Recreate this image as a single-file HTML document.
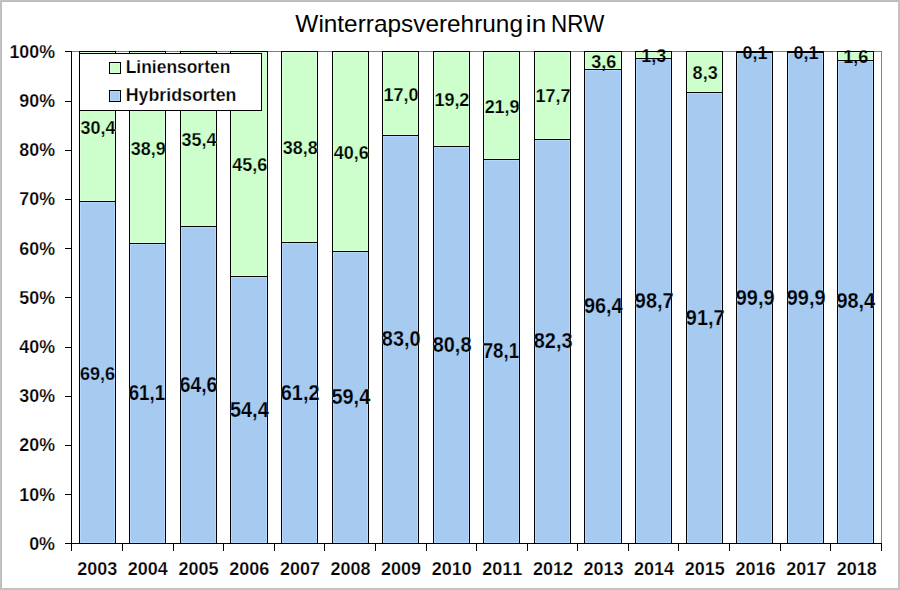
<!DOCTYPE html>
<html><head><meta charset="utf-8"><style>
html,body{margin:0;padding:0;background:#fff;}
body{width:900px;height:590px;overflow:hidden;}
svg{display:block;}
text{font-family:"Liberation Sans", sans-serif;font-kerning:none;}
</style></head><body>
<svg width="900" height="590" viewBox="0 0 900 590" shape-rendering="crispEdges">
<rect x="0" y="0" width="900" height="590" fill="#C2C2C2"/>
<rect x="1" y="1" width="897" height="587" fill="#BBBBBB"/>
<rect x="2" y="2" width="896" height="586" fill="#FFFFFF"/>
<rect x="71" y="51" width="811" height="1" fill="#808080"/>
<rect x="881" y="51" width="1" height="493" fill="#808080"/>
<rect x="79" y="51" width="37" height="151" fill="#000"/>
<rect x="80" y="52" width="35" height="149" fill="#DAFFDA"/>
<rect x="81" y="53" width="33" height="147" fill="#CCFFCC"/>
<rect x="79" y="201" width="37" height="343" fill="#000"/>
<rect x="80" y="202" width="35" height="341" fill="#B4D8FF"/>
<rect x="81" y="203" width="33" height="339" fill="#A6CAF0"/>
<rect x="129" y="51" width="37" height="193" fill="#000"/>
<rect x="130" y="52" width="35" height="191" fill="#DAFFDA"/>
<rect x="131" y="53" width="33" height="189" fill="#CCFFCC"/>
<rect x="129" y="243" width="37" height="301" fill="#000"/>
<rect x="130" y="244" width="35" height="299" fill="#B4D8FF"/>
<rect x="131" y="245" width="33" height="297" fill="#A6CAF0"/>
<rect x="180" y="51" width="37" height="176" fill="#000"/>
<rect x="181" y="52" width="35" height="174" fill="#DAFFDA"/>
<rect x="182" y="53" width="33" height="172" fill="#CCFFCC"/>
<rect x="180" y="226" width="37" height="318" fill="#000"/>
<rect x="181" y="227" width="35" height="316" fill="#B4D8FF"/>
<rect x="182" y="228" width="33" height="314" fill="#A6CAF0"/>
<rect x="230" y="51" width="38" height="226" fill="#000"/>
<rect x="231" y="52" width="36" height="224" fill="#DAFFDA"/>
<rect x="232" y="53" width="34" height="222" fill="#CCFFCC"/>
<rect x="230" y="276" width="38" height="268" fill="#000"/>
<rect x="231" y="277" width="36" height="266" fill="#B4D8FF"/>
<rect x="232" y="278" width="34" height="264" fill="#A6CAF0"/>
<rect x="281" y="51" width="37" height="192" fill="#000"/>
<rect x="282" y="52" width="35" height="190" fill="#DAFFDA"/>
<rect x="283" y="53" width="33" height="188" fill="#CCFFCC"/>
<rect x="281" y="242" width="37" height="302" fill="#000"/>
<rect x="282" y="243" width="35" height="300" fill="#B4D8FF"/>
<rect x="283" y="244" width="33" height="298" fill="#A6CAF0"/>
<rect x="332" y="51" width="37" height="201" fill="#000"/>
<rect x="333" y="52" width="35" height="199" fill="#DAFFDA"/>
<rect x="334" y="53" width="33" height="197" fill="#CCFFCC"/>
<rect x="332" y="251" width="37" height="293" fill="#000"/>
<rect x="333" y="252" width="35" height="291" fill="#B4D8FF"/>
<rect x="334" y="253" width="33" height="289" fill="#A6CAF0"/>
<rect x="382" y="51" width="37" height="85" fill="#000"/>
<rect x="383" y="52" width="35" height="83" fill="#DAFFDA"/>
<rect x="384" y="53" width="33" height="81" fill="#CCFFCC"/>
<rect x="382" y="135" width="37" height="409" fill="#000"/>
<rect x="383" y="136" width="35" height="407" fill="#B4D8FF"/>
<rect x="384" y="137" width="33" height="405" fill="#A6CAF0"/>
<rect x="433" y="51" width="37" height="96" fill="#000"/>
<rect x="434" y="52" width="35" height="94" fill="#DAFFDA"/>
<rect x="435" y="53" width="33" height="92" fill="#CCFFCC"/>
<rect x="433" y="146" width="37" height="398" fill="#000"/>
<rect x="434" y="147" width="35" height="396" fill="#B4D8FF"/>
<rect x="435" y="148" width="33" height="394" fill="#A6CAF0"/>
<rect x="483" y="51" width="37" height="109" fill="#000"/>
<rect x="484" y="52" width="35" height="107" fill="#DAFFDA"/>
<rect x="485" y="53" width="33" height="105" fill="#CCFFCC"/>
<rect x="483" y="159" width="37" height="385" fill="#000"/>
<rect x="484" y="160" width="35" height="383" fill="#B4D8FF"/>
<rect x="485" y="161" width="33" height="381" fill="#A6CAF0"/>
<rect x="534" y="51" width="37" height="89" fill="#000"/>
<rect x="535" y="52" width="35" height="87" fill="#DAFFDA"/>
<rect x="536" y="53" width="33" height="85" fill="#CCFFCC"/>
<rect x="534" y="139" width="37" height="405" fill="#000"/>
<rect x="535" y="140" width="35" height="403" fill="#B4D8FF"/>
<rect x="536" y="141" width="33" height="401" fill="#A6CAF0"/>
<rect x="584" y="51" width="38" height="19" fill="#000"/>
<rect x="585" y="52" width="36" height="17" fill="#DAFFDA"/>
<rect x="586" y="53" width="34" height="15" fill="#CCFFCC"/>
<rect x="584" y="69" width="38" height="475" fill="#000"/>
<rect x="585" y="70" width="36" height="473" fill="#B4D8FF"/>
<rect x="586" y="71" width="34" height="471" fill="#A6CAF0"/>
<rect x="635" y="51" width="37" height="8" fill="#000"/>
<rect x="636" y="52" width="35" height="6" fill="#DAFFDA"/>
<rect x="637" y="53" width="33" height="4" fill="#CCFFCC"/>
<rect x="635" y="58" width="37" height="486" fill="#000"/>
<rect x="636" y="59" width="35" height="484" fill="#B4D8FF"/>
<rect x="637" y="60" width="33" height="482" fill="#A6CAF0"/>
<rect x="686" y="51" width="37" height="42" fill="#000"/>
<rect x="687" y="52" width="35" height="40" fill="#DAFFDA"/>
<rect x="688" y="53" width="33" height="38" fill="#CCFFCC"/>
<rect x="686" y="92" width="37" height="452" fill="#000"/>
<rect x="687" y="93" width="35" height="450" fill="#B4D8FF"/>
<rect x="688" y="94" width="33" height="448" fill="#A6CAF0"/>
<rect x="736" y="51" width="37" height="2" fill="#000"/>
<rect x="736" y="52" width="37" height="492" fill="#000"/>
<rect x="737" y="53" width="35" height="490" fill="#B4D8FF"/>
<rect x="738" y="54" width="33" height="488" fill="#A6CAF0"/>
<rect x="787" y="51" width="37" height="2" fill="#000"/>
<rect x="787" y="52" width="37" height="492" fill="#000"/>
<rect x="788" y="53" width="35" height="490" fill="#B4D8FF"/>
<rect x="789" y="54" width="33" height="488" fill="#A6CAF0"/>
<rect x="837" y="51" width="37" height="10" fill="#000"/>
<rect x="838" y="52" width="35" height="8" fill="#DAFFDA"/>
<rect x="839" y="53" width="33" height="6" fill="#CCFFCC"/>
<rect x="837" y="60" width="37" height="484" fill="#000"/>
<rect x="838" y="61" width="35" height="482" fill="#B4D8FF"/>
<rect x="839" y="62" width="33" height="480" fill="#A6CAF0"/>
<rect x="71" y="51" width="1" height="500" fill="#000"/>
<rect x="65" y="543" width="817" height="1" fill="#000"/>
<rect x="65" y="543" width="7" height="1" fill="#000"/>
<rect x="65" y="494" width="7" height="1" fill="#000"/>
<rect x="65" y="445" width="7" height="1" fill="#000"/>
<rect x="65" y="396" width="7" height="1" fill="#000"/>
<rect x="65" y="347" width="7" height="1" fill="#000"/>
<rect x="65" y="297" width="7" height="1" fill="#000"/>
<rect x="65" y="248" width="7" height="1" fill="#000"/>
<rect x="65" y="199" width="7" height="1" fill="#000"/>
<rect x="65" y="150" width="7" height="1" fill="#000"/>
<rect x="65" y="101" width="7" height="1" fill="#000"/>
<rect x="65" y="51" width="7" height="1" fill="#000"/>
<rect x="71" y="543" width="1" height="8" fill="#000"/>
<rect x="122" y="543" width="1" height="8" fill="#000"/>
<rect x="173" y="543" width="1" height="8" fill="#000"/>
<rect x="223" y="543" width="1" height="8" fill="#000"/>
<rect x="274" y="543" width="1" height="8" fill="#000"/>
<rect x="324" y="543" width="1" height="8" fill="#000"/>
<rect x="375" y="543" width="1" height="8" fill="#000"/>
<rect x="426" y="543" width="1" height="8" fill="#000"/>
<rect x="476" y="543" width="1" height="8" fill="#000"/>
<rect x="527" y="543" width="1" height="8" fill="#000"/>
<rect x="577" y="543" width="1" height="8" fill="#000"/>
<rect x="628" y="543" width="1" height="8" fill="#000"/>
<rect x="678" y="543" width="1" height="8" fill="#000"/>
<rect x="729" y="543" width="1" height="8" fill="#000"/>
<rect x="780" y="543" width="1" height="8" fill="#000"/>
<rect x="830" y="543" width="1" height="8" fill="#000"/>
<rect x="881" y="543" width="1" height="8" fill="#000"/>
<rect x="79" y="53" width="183" height="58" fill="#000"/>
<rect x="80" y="54" width="181" height="56" fill="#FFFFFF"/>
<rect x="109" y="62" width="12" height="12" fill="#000"/>
<rect x="110" y="63" width="10" height="10" fill="#DAFFDA"/>
<rect x="111" y="64" width="8" height="8" fill="#CCFFCC"/>
<rect x="109" y="90" width="12" height="12" fill="#000"/>
<rect x="110" y="91" width="10" height="10" fill="#B4D8FF"/>
<rect x="111" y="92" width="8" height="8" fill="#A6CAF0"/>
<defs>
<clipPath id="cw10"><rect x="578" y="30" width="50" height="21"/></clipPath>
<clipPath id="cg10"><rect x="578" y="51" width="50" height="19"/></clipPath>
<clipPath id="cb10"><rect x="578" y="70" width="50" height="40"/></clipPath>
<clipPath id="cw11"><rect x="629" y="30" width="49" height="21"/></clipPath>
<clipPath id="cg11"><rect x="629" y="51" width="49" height="8"/></clipPath>
<clipPath id="cb11"><rect x="629" y="59" width="49" height="40"/></clipPath>
<clipPath id="cw13"><rect x="730" y="30" width="49" height="21"/></clipPath>
<clipPath id="cg13"><rect x="730" y="51" width="49" height="2"/></clipPath>
<clipPath id="cb13"><rect x="730" y="53" width="49" height="40"/></clipPath>
<clipPath id="cw14"><rect x="781" y="30" width="49" height="21"/></clipPath>
<clipPath id="cg14"><rect x="781" y="51" width="49" height="2"/></clipPath>
<clipPath id="cb14"><rect x="781" y="53" width="49" height="40"/></clipPath>
<clipPath id="cw15"><rect x="831" y="30" width="49" height="21"/></clipPath>
<clipPath id="cg15"><rect x="831" y="51" width="49" height="10"/></clipPath>
<clipPath id="cb15"><rect x="831" y="61" width="49" height="40"/></clipPath>
</defs>
<g shape-rendering="auto">
<text x="295.39" y="31.90" font-size="23.40" font-weight="normal" textLength="227.58" lengthAdjust="spacingAndGlyphs" fill="#000">Winterrapsverehrung</text>
<text x="525.85" y="31.90" font-size="23.40" font-weight="normal" textLength="20.35" lengthAdjust="spacingAndGlyphs" fill="#000">in</text>
<text x="551.07" y="31.90" font-size="23.40" font-weight="normal" textLength="53.41" lengthAdjust="spacingAndGlyphs" fill="#000">NRW</text>
<text x="125.71" y="72.83" font-size="18.68" font-weight="bold" textLength="104.60" lengthAdjust="spacingAndGlyphs" fill="#000" stroke="#FFFFFF" stroke-width="0.25">Liniensorten</text>
<text x="125.68" y="100.83" font-size="18.68" font-weight="bold" textLength="110.74" lengthAdjust="spacingAndGlyphs" fill="#000" stroke="#FFFFFF" stroke-width="0.25">Hybridsorten</text>
<text x="29.15" y="549.89" font-size="18.86" font-weight="bold" textLength="25.85" lengthAdjust="spacingAndGlyphs" fill="#000" stroke="#FFFFFF" stroke-width="0.25">0%</text>
<text x="19.30" y="500.69" font-size="18.86" font-weight="bold" textLength="35.70" lengthAdjust="spacingAndGlyphs" fill="#000" stroke="#FFFFFF" stroke-width="0.25">10%</text>
<text x="19.30" y="451.49" font-size="18.86" font-weight="bold" textLength="35.69" lengthAdjust="spacingAndGlyphs" fill="#000" stroke="#FFFFFF" stroke-width="0.25">20%</text>
<text x="19.30" y="402.29" font-size="18.86" font-weight="bold" textLength="35.69" lengthAdjust="spacingAndGlyphs" fill="#000" stroke="#FFFFFF" stroke-width="0.25">30%</text>
<text x="19.30" y="353.09" font-size="18.86" font-weight="bold" textLength="35.69" lengthAdjust="spacingAndGlyphs" fill="#000" stroke="#FFFFFF" stroke-width="0.25">40%</text>
<text x="19.30" y="303.89" font-size="18.86" font-weight="bold" textLength="35.69" lengthAdjust="spacingAndGlyphs" fill="#000" stroke="#FFFFFF" stroke-width="0.25">50%</text>
<text x="19.30" y="254.69" font-size="18.86" font-weight="bold" textLength="35.69" lengthAdjust="spacingAndGlyphs" fill="#000" stroke="#FFFFFF" stroke-width="0.25">60%</text>
<text x="19.30" y="205.49" font-size="18.86" font-weight="bold" textLength="35.69" lengthAdjust="spacingAndGlyphs" fill="#000" stroke="#FFFFFF" stroke-width="0.25">70%</text>
<text x="19.30" y="156.29" font-size="18.86" font-weight="bold" textLength="35.69" lengthAdjust="spacingAndGlyphs" fill="#000" stroke="#FFFFFF" stroke-width="0.25">80%</text>
<text x="19.30" y="107.09" font-size="18.86" font-weight="bold" textLength="35.69" lengthAdjust="spacingAndGlyphs" fill="#000" stroke="#FFFFFF" stroke-width="0.25">90%</text>
<text x="9.45" y="57.89" font-size="18.86" font-weight="bold" textLength="45.54" lengthAdjust="spacingAndGlyphs" fill="#000" stroke="#FFFFFF" stroke-width="0.25">100%</text>
<text x="77.31" y="574.94" font-size="18.86" font-weight="bold" textLength="40.02" lengthAdjust="spacingAndGlyphs" fill="#000" stroke="#FFFFFF" stroke-width="0.25">2003</text>
<text x="127.66" y="574.94" font-size="18.86" font-weight="bold" textLength="40.02" lengthAdjust="spacingAndGlyphs" fill="#000" stroke="#FFFFFF" stroke-width="0.25">2004</text>
<text x="178.49" y="574.94" font-size="18.86" font-weight="bold" textLength="40.02" lengthAdjust="spacingAndGlyphs" fill="#000" stroke="#FFFFFF" stroke-width="0.25">2005</text>
<text x="229.19" y="574.94" font-size="18.86" font-weight="bold" textLength="40.02" lengthAdjust="spacingAndGlyphs" fill="#000" stroke="#FFFFFF" stroke-width="0.25">2006</text>
<text x="279.88" y="574.94" font-size="18.86" font-weight="bold" textLength="40.02" lengthAdjust="spacingAndGlyphs" fill="#000" stroke="#FFFFFF" stroke-width="0.25">2007</text>
<text x="330.39" y="574.94" font-size="18.86" font-weight="bold" textLength="40.02" lengthAdjust="spacingAndGlyphs" fill="#000" stroke="#FFFFFF" stroke-width="0.25">2008</text>
<text x="381.07" y="574.94" font-size="18.86" font-weight="bold" textLength="40.02" lengthAdjust="spacingAndGlyphs" fill="#000" stroke="#FFFFFF" stroke-width="0.25">2009</text>
<text x="431.73" y="574.94" font-size="18.86" font-weight="bold" textLength="40.02" lengthAdjust="spacingAndGlyphs" fill="#000" stroke="#FFFFFF" stroke-width="0.25">2010</text>
<text x="482.24" y="574.94" font-size="18.86" font-weight="bold" textLength="40.02" lengthAdjust="spacingAndGlyphs" fill="#000" stroke="#FFFFFF" stroke-width="0.25">2011</text>
<text x="532.97" y="574.94" font-size="18.86" font-weight="bold" textLength="40.02" lengthAdjust="spacingAndGlyphs" fill="#000" stroke="#FFFFFF" stroke-width="0.25">2012</text>
<text x="583.56" y="574.94" font-size="18.86" font-weight="bold" textLength="40.02" lengthAdjust="spacingAndGlyphs" fill="#000" stroke="#FFFFFF" stroke-width="0.25">2013</text>
<text x="633.91" y="574.94" font-size="18.86" font-weight="bold" textLength="40.02" lengthAdjust="spacingAndGlyphs" fill="#000" stroke="#FFFFFF" stroke-width="0.25">2014</text>
<text x="684.74" y="574.94" font-size="18.86" font-weight="bold" textLength="40.02" lengthAdjust="spacingAndGlyphs" fill="#000" stroke="#FFFFFF" stroke-width="0.25">2015</text>
<text x="735.44" y="574.94" font-size="18.86" font-weight="bold" textLength="40.02" lengthAdjust="spacingAndGlyphs" fill="#000" stroke="#FFFFFF" stroke-width="0.25">2016</text>
<text x="786.13" y="574.94" font-size="18.86" font-weight="bold" textLength="40.02" lengthAdjust="spacingAndGlyphs" fill="#000" stroke="#FFFFFF" stroke-width="0.25">2017</text>
<text x="836.64" y="574.94" font-size="18.86" font-weight="bold" textLength="40.02" lengthAdjust="spacingAndGlyphs" fill="#000" stroke="#FFFFFF" stroke-width="0.25">2018</text>
<text x="80.46" y="133.62" font-size="18.86" font-weight="bold" textLength="34.97" lengthAdjust="spacingAndGlyphs" fill="#000" stroke="#CCFFCC" stroke-width="0.25">30,4</text>
<text x="79.97" y="379.70" font-size="18.36" font-weight="bold" textLength="35.06" lengthAdjust="spacingAndGlyphs" fill="#000" stroke="#A6CAF0" stroke-width="0.25">69,6</text>
<text x="130.74" y="154.53" font-size="18.86" font-weight="bold" textLength="34.97" lengthAdjust="spacingAndGlyphs" fill="#000" stroke="#CCFFCC" stroke-width="0.25">38,9</text>
<text x="128.71" y="400.21" font-size="21.54" font-weight="bold" textLength="36.41" lengthAdjust="spacingAndGlyphs" fill="#000" stroke="#A6CAF0" stroke-width="0.25">61,1</text>
<text x="181.46" y="145.92" font-size="18.86" font-weight="bold" textLength="34.97" lengthAdjust="spacingAndGlyphs" fill="#000" stroke="#CCFFCC" stroke-width="0.25">35,4</text>
<text x="179.77" y="391.60" font-size="21.54" font-weight="bold" textLength="37.44" lengthAdjust="spacingAndGlyphs" fill="#000" stroke="#A6CAF0" stroke-width="0.25">64,6</text>
<text x="232.30" y="171.02" font-size="18.86" font-weight="bold" textLength="34.97" lengthAdjust="spacingAndGlyphs" fill="#000" stroke="#CCFFCC" stroke-width="0.25">45,6</text>
<text x="230.01" y="416.69" font-size="21.54" font-weight="bold" textLength="38.69" lengthAdjust="spacingAndGlyphs" fill="#000" stroke="#A6CAF0" stroke-width="0.25">54,4</text>
<text x="282.68" y="154.29" font-size="18.86" font-weight="bold" textLength="34.97" lengthAdjust="spacingAndGlyphs" fill="#000" stroke="#CCFFCC" stroke-width="0.25">38,8</text>
<text x="280.79" y="399.96" font-size="21.54" font-weight="bold" textLength="38.69" lengthAdjust="spacingAndGlyphs" fill="#000" stroke="#A6CAF0" stroke-width="0.25">61,2</text>
<text x="333.80" y="158.72" font-size="18.86" font-weight="bold" textLength="34.97" lengthAdjust="spacingAndGlyphs" fill="#000" stroke="#CCFFCC" stroke-width="0.25">40,6</text>
<text x="331.51" y="404.39" font-size="21.54" font-weight="bold" textLength="38.69" lengthAdjust="spacingAndGlyphs" fill="#000" stroke="#A6CAF0" stroke-width="0.25">59,4</text>
<text x="383.41" y="100.66" font-size="18.86" font-weight="bold" textLength="34.98" lengthAdjust="spacingAndGlyphs" fill="#000" stroke="#CCFFCC" stroke-width="0.25">17,0</text>
<text x="381.85" y="346.33" font-size="21.54" font-weight="bold" textLength="38.69" lengthAdjust="spacingAndGlyphs" fill="#000" stroke="#A6CAF0" stroke-width="0.25">83,0</text>
<text x="434.40" y="106.07" font-size="18.86" font-weight="bold" textLength="34.98" lengthAdjust="spacingAndGlyphs" fill="#000" stroke="#CCFFCC" stroke-width="0.25">19,2</text>
<text x="432.75" y="351.75" font-size="21.54" font-weight="bold" textLength="38.69" lengthAdjust="spacingAndGlyphs" fill="#000" stroke="#A6CAF0" stroke-width="0.25">80,8</text>
<text x="484.63" y="112.71" font-size="18.86" font-weight="bold" textLength="34.97" lengthAdjust="spacingAndGlyphs" fill="#000" stroke="#CCFFCC" stroke-width="0.25">21,9</text>
<text x="482.65" y="358.39" font-size="21.54" font-weight="bold" textLength="36.41" lengthAdjust="spacingAndGlyphs" fill="#000" stroke="#A6CAF0" stroke-width="0.25">78,1</text>
<text x="535.44" y="102.38" font-size="18.86" font-weight="bold" textLength="34.98" lengthAdjust="spacingAndGlyphs" fill="#000" stroke="#CCFFCC" stroke-width="0.25">17,7</text>
<text x="533.80" y="348.06" font-size="21.54" font-weight="bold" textLength="38.69" lengthAdjust="spacingAndGlyphs" fill="#000" stroke="#A6CAF0" stroke-width="0.25">82,3</text>
<text x="591.19" y="67.70" font-size="18.86" font-weight="bold" textLength="25.06" lengthAdjust="spacingAndGlyphs" fill="#000" stroke="#FFFFFF" stroke-width="0.25" clip-path="url(#cw10)">3,6</text>
<text x="591.19" y="67.70" font-size="18.86" font-weight="bold" textLength="25.06" lengthAdjust="spacingAndGlyphs" fill="#000" stroke="#CCFFCC" stroke-width="0.25" clip-path="url(#cg10)">3,6</text>
<text x="591.19" y="67.70" font-size="18.86" font-weight="bold" textLength="25.06" lengthAdjust="spacingAndGlyphs" fill="#000" stroke="#A6CAF0" stroke-width="0.25" clip-path="url(#cb10)">3,6</text>
<text x="583.97" y="313.37" font-size="21.54" font-weight="bold" textLength="38.69" lengthAdjust="spacingAndGlyphs" fill="#000" stroke="#A6CAF0" stroke-width="0.25">96,4</text>
<text x="641.33" y="62.04" font-size="18.86" font-weight="bold" textLength="25.06" lengthAdjust="spacingAndGlyphs" fill="#000" stroke="#FFFFFF" stroke-width="0.25" clip-path="url(#cw11)">1,3</text>
<text x="641.33" y="62.04" font-size="18.86" font-weight="bold" textLength="25.06" lengthAdjust="spacingAndGlyphs" fill="#000" stroke="#CCFFCC" stroke-width="0.25" clip-path="url(#cg11)">1,3</text>
<text x="641.33" y="62.04" font-size="18.86" font-weight="bold" textLength="25.06" lengthAdjust="spacingAndGlyphs" fill="#000" stroke="#A6CAF0" stroke-width="0.25" clip-path="url(#cb11)">1,3</text>
<text x="634.85" y="307.71" font-size="21.54" font-weight="bold" textLength="38.69" lengthAdjust="spacingAndGlyphs" fill="#000" stroke="#A6CAF0" stroke-width="0.25">98,7</text>
<text x="692.61" y="79.26" font-size="18.86" font-weight="bold" textLength="25.06" lengthAdjust="spacingAndGlyphs" fill="#000" stroke="#CCFFCC" stroke-width="0.25">8,3</text>
<text x="685.85" y="324.93" font-size="21.54" font-weight="bold" textLength="38.69" lengthAdjust="spacingAndGlyphs" fill="#000" stroke="#A6CAF0" stroke-width="0.25">91,7</text>
<text x="742.47" y="59.09" font-size="18.86" font-weight="bold" textLength="25.06" lengthAdjust="spacingAndGlyphs" fill="#000" stroke="#FFFFFF" stroke-width="0.25" clip-path="url(#cw13)">0,1</text>
<text x="742.47" y="59.09" font-size="18.86" font-weight="bold" textLength="25.06" lengthAdjust="spacingAndGlyphs" fill="#000" stroke="#CCFFCC" stroke-width="0.25" clip-path="url(#cg13)">0,1</text>
<text x="742.47" y="59.09" font-size="18.86" font-weight="bold" textLength="25.06" lengthAdjust="spacingAndGlyphs" fill="#000" stroke="#A6CAF0" stroke-width="0.25" clip-path="url(#cb13)">0,1</text>
<text x="735.78" y="304.76" font-size="21.54" font-weight="bold" textLength="38.69" lengthAdjust="spacingAndGlyphs" fill="#000" stroke="#A6CAF0" stroke-width="0.25">99,9</text>
<text x="793.47" y="59.09" font-size="18.86" font-weight="bold" textLength="25.06" lengthAdjust="spacingAndGlyphs" fill="#000" stroke="#FFFFFF" stroke-width="0.25" clip-path="url(#cw14)">0,1</text>
<text x="793.47" y="59.09" font-size="18.86" font-weight="bold" textLength="25.06" lengthAdjust="spacingAndGlyphs" fill="#000" stroke="#CCFFCC" stroke-width="0.25" clip-path="url(#cg14)">0,1</text>
<text x="793.47" y="59.09" font-size="18.86" font-weight="bold" textLength="25.06" lengthAdjust="spacingAndGlyphs" fill="#000" stroke="#A6CAF0" stroke-width="0.25" clip-path="url(#cb14)">0,1</text>
<text x="786.78" y="304.76" font-size="21.54" font-weight="bold" textLength="38.69" lengthAdjust="spacingAndGlyphs" fill="#000" stroke="#A6CAF0" stroke-width="0.25">99,9</text>
<text x="843.33" y="62.78" font-size="18.86" font-weight="bold" textLength="25.06" lengthAdjust="spacingAndGlyphs" fill="#000" stroke="#FFFFFF" stroke-width="0.25" clip-path="url(#cw15)">1,6</text>
<text x="843.33" y="62.78" font-size="18.86" font-weight="bold" textLength="25.06" lengthAdjust="spacingAndGlyphs" fill="#000" stroke="#CCFFCC" stroke-width="0.25" clip-path="url(#cg15)">1,6</text>
<text x="843.33" y="62.78" font-size="18.86" font-weight="bold" textLength="25.06" lengthAdjust="spacingAndGlyphs" fill="#000" stroke="#A6CAF0" stroke-width="0.25" clip-path="url(#cb15)">1,6</text>
<text x="836.47" y="308.45" font-size="21.54" font-weight="bold" textLength="38.69" lengthAdjust="spacingAndGlyphs" fill="#000" stroke="#A6CAF0" stroke-width="0.25">98,4</text>
</g>
<rect x="584" y="51" width="38" height="1" fill="#000"/>
<rect x="584" y="69" width="38" height="1" fill="#000"/>
<rect x="584" y="51" width="1" height="28" fill="#000"/>
<rect x="621" y="51" width="1" height="28" fill="#000"/>
<rect x="635" y="51" width="37" height="1" fill="#000"/>
<rect x="635" y="58" width="37" height="1" fill="#000"/>
<rect x="635" y="51" width="1" height="17" fill="#000"/>
<rect x="671" y="51" width="1" height="17" fill="#000"/>
<rect x="736" y="51" width="37" height="1" fill="#000"/>
<rect x="736" y="52" width="37" height="1" fill="#000"/>
<rect x="736" y="51" width="1" height="11" fill="#000"/>
<rect x="772" y="51" width="1" height="11" fill="#000"/>
<rect x="787" y="51" width="37" height="1" fill="#000"/>
<rect x="787" y="52" width="37" height="1" fill="#000"/>
<rect x="787" y="51" width="1" height="11" fill="#000"/>
<rect x="823" y="51" width="1" height="11" fill="#000"/>
<rect x="837" y="51" width="37" height="1" fill="#000"/>
<rect x="837" y="60" width="37" height="1" fill="#000"/>
<rect x="837" y="51" width="1" height="19" fill="#000"/>
<rect x="873" y="51" width="1" height="19" fill="#000"/>
</svg>
</body></html>
